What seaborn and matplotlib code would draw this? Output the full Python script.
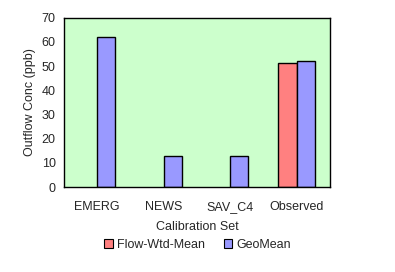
import matplotlib
matplotlib.use("Agg")
import matplotlib.pyplot as plt
import seaborn as sns
import pandas as pd
import numpy as np
from matplotlib.patches import Patch

categories = ["EMERG", "NEWS", "SAV_C4", "Observed"]
flow_wtd_mean = [np.nan, np.nan, np.nan, 51.5]
geo_mean = [62, 13, 13, 52]
series = ["Flow-Wtd-Mean", "GeoMean"]
colors = ["#FF8080", "#9999FF"]

df = pd.DataFrame({
    "Calibration Set": categories * 2,
    "Series": [series[0]] * 4 + [series[1]] * 4,
    "Value": flow_wtd_mean + geo_mean,
})

sns.set_style("white")
plt.rcParams["font.family"] = ["Liberation Sans", "DejaVu Sans"]

fig = plt.figure(figsize=(3.95, 2.72), dpi=100)
ax = fig.add_axes([0.162, 0.3125, 0.673, 0.622])
ax.set_facecolor("#CCFFCC")
sns.barplot(data=df, x="Calibration Set", y="Value", hue="Series",
            palette=colors, saturation=1, width=0.55, edgecolor="black", linewidth=1,
            ax=ax, legend=False, errorbar=None)

fs = 9
ax.set_ylim(0, 70)
ax.set_yticks(range(0, 71, 10))
ax.set_xlim(-0.5, 3.5)
ax.set_xticks([-0.5, 0.5, 1.5, 2.5, 3.5])
ax.set_xticklabels([])
ax.set_xticks(range(4), minor=True)
ax.set_xticklabels(categories, minor=True)
ax.tick_params(axis="x", which="minor", length=0, pad=10, labelsize=fs)
ax.tick_params(axis="x", which="major", direction="out", length=4, width=1)
ax.tick_params(axis="y", direction="out", length=4, width=1, labelsize=fs, pad=2)
for s in ax.spines.values():
    s.set_color("black")
    s.set_linewidth(1)
ax.set_xlabel("Calibration Set", fontsize=fs, labelpad=6)
ax.set_ylabel("Outflow Conc (ppb)", fontsize=fs, labelpad=4)

handles = [Patch(facecolor=c, edgecolor="black", linewidth=0.8) for c in colors]
fig.legend(handles, series, loc="center", bbox_to_anchor=(0.5, 0.1), ncol=2,
           frameon=False, fontsize=fs, handlelength=0.7, handleheight=0.7,
           handletextpad=0.3, columnspacing=1.5)

fig.savefig("out.png", dpi=100)
